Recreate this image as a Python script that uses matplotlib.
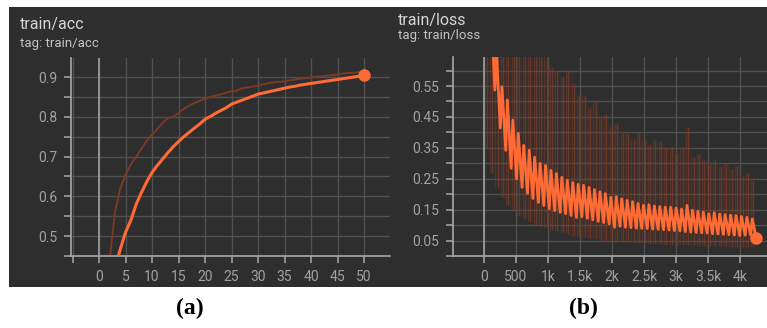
import matplotlib
matplotlib.use("Agg")
import matplotlib.pyplot as plt
from matplotlib.patches import Rectangle
from matplotlib.ticker import MultipleLocator, FixedLocator

# --- data ---
epochs = list(range(1, 51))
acc_raw = [0.30, 0.44, 0.56, 0.62, 0.655, 0.68, 0.70, 0.72, 0.74, 0.755,
           0.77, 0.785, 0.797, 0.80, 0.81, 0.82, 0.828, 0.835, 0.84, 0.846,
           0.85, 0.853, 0.857, 0.861, 0.864, 0.866, 0.872, 0.874, 0.876, 0.878,
           0.882, 0.885, 0.887, 0.888, 0.889, 0.892, 0.894, 0.896, 0.897, 0.899,
           0.901, 0.902, 0.904, 0.905, 0.907, 0.909, 0.910, 0.911, 0.912, 0.914]
acc_smooth = [0.25, 0.34, 0.42, 0.467, 0.51, 0.54, 0.58, 0.61, 0.637, 0.66,
              0.678, 0.694, 0.71, 0.725, 0.738, 0.75, 0.761, 0.772, 0.782, 0.794,
              0.801, 0.809, 0.816, 0.823, 0.832, 0.837, 0.842, 0.847, 0.852, 0.857,
              0.86, 0.863, 0.866, 0.869, 0.872, 0.875, 0.877, 0.88, 0.882, 0.884,
              0.886, 0.888, 0.89, 0.892, 0.894, 0.896, 0.898, 0.90, 0.902, 0.904]

steps_per_epoch = 85
# smoothed loss: peak and trough reached inside each epoch
loss_peak = [1.50, 0.80, 0.66, 0.548, 0.505, 0.44, 0.397, 0.358, 0.342, 0.32,
             0.30, 0.293, 0.277, 0.267, 0.255, 0.245, 0.238, 0.232, 0.229, 0.222,
             0.215, 0.208, 0.202, 0.19, 0.192, 0.185, 0.18, 0.176, 0.17, 0.164,
             0.166, 0.162, 0.16, 0.158, 0.158, 0.155, 0.152, 0.164, 0.148, 0.145,
             0.142, 0.137, 0.14, 0.136, 0.134, 0.132, 0.131, 0.128, 0.125, 0.12]
loss_trough = [0.90, 0.537, 0.414, 0.342, 0.284, 0.25, 0.222, 0.203, 0.186, 0.173,
               0.163, 0.153, 0.147, 0.141, 0.137, 0.131, 0.125, 0.127, 0.122, 0.117,
               0.112, 0.108, 0.104, 0.093, 0.096, 0.093, 0.092, 0.09, 0.089, 0.089,
               0.087, 0.086, 0.085, 0.084, 0.082, 0.081, 0.079, 0.077, 0.076, 0.075,
               0.074, 0.072, 0.071, 0.07, 0.069, 0.068, 0.066, 0.067, 0.068, 0.059]
# raw loss spread per epoch (faint streaks)
raw_top = [2.0, 1.2, 0.9, 0.8, 0.75, 0.7, 0.68, 0.66, 0.66, 0.65,
           0.65, 0.65, 0.61, 0.60, 0.58, 0.60, 0.56, 0.52, 0.52, 0.48,
           0.50, 0.45, 0.46, 0.42, 0.43, 0.40, 0.397, 0.38, 0.40, 0.375,
           0.36, 0.375, 0.37, 0.35, 0.353, 0.33, 0.35, 0.417, 0.32, 0.33,
           0.31, 0.30, 0.31, 0.29, 0.30, 0.28, 0.29, 0.26, 0.27, 0.245]
raw_low = [0.35, 0.27, 0.22, 0.19, 0.165, 0.15, 0.13, 0.12, 0.11, 0.10,
           0.095, 0.09, 0.085, 0.08, 0.075, 0.07, 0.065, 0.062, 0.06, 0.057,
           0.055, 0.052, 0.05, 0.048, 0.046, 0.045, 0.044, 0.043, 0.042, 0.041,
           0.04, 0.039, 0.038, 0.037, 0.036, 0.035, 0.035, 0.034, 0.034, 0.033,
           0.033, 0.032, 0.032, 0.031, 0.031, 0.03, 0.03, 0.03, 0.03, 0.03]

acc_xticks = list(range(-5, 55, 5))
acc_xlabels = [""] + [str(t) for t in range(0, 55, 5)]
acc_yticks = [0.5, 0.6, 0.7, 0.8, 0.9]
loss_xticks = list(range(-500, 4500, 500))
loss_xlabels = ["", "0", "500", "1k", "1.5k", "2k", "2.5k", "3k", "3.5k", "4k"]
loss_yticks = [0.05, 0.15, 0.25, 0.35, 0.45, 0.55]

BG = "#2e2e2e"
GRID = "#505050"
AXC = "#a8a8a8"
TXT = "#a2a2a2"
ORANGE = "#ff6a35"
DIM = "#7b3a26"

plt.rcParams['font.family'] = ['Roboto', 'DejaVu Sans']

fig = plt.figure(figsize=(7.67, 3.28), dpi=100)
fig.patches.append(Rectangle((9 / 767, 41 / 328), 758 / 767, 280 / 328,
                             transform=fig.transFigure, facecolor=BG,
                             edgecolor="none", zorder=-10))


def style_axes(ax, xticks, xlabels, yticks, yminor):
    ax.set_facecolor("none")
    for s in ["top", "right"]:
        ax.spines[s].set_visible(False)
    for s in ["left", "bottom"]:
        ax.spines[s].set_color(AXC)
        ax.spines[s].set_linewidth(1.2)
    ax.xaxis.set_major_locator(FixedLocator(xticks))
    ax.set_xticklabels(xlabels)
    ax.yaxis.set_major_locator(FixedLocator(yticks))
    ax.yaxis.set_minor_locator(MultipleLocator(yminor))
    ax.tick_params(which="both", colors=AXC, labelcolor=TXT, labelsize=10,
                   length=5, width=1.1, pad=5)
    ax.grid(True, which="both", axis="y", color=GRID, lw=1)
    ax.grid(True, which="major", axis="x", color=GRID, lw=1)
    ax.axvline(0, color="#9a9a9a", lw=1.3, zorder=1)
    ax.set_axisbelow(True)


# (a) train/acc
ax1 = fig.add_axes([71 / 767, 72 / 328, 319 / 767, 198 / 328])
style_axes(ax1, acc_xticks, acc_xlabels, acc_yticks, 0.05)
ax1.plot(epochs, acc_raw, color=DIM, lw=1.4, zorder=2)
ax1.plot(epochs, acc_smooth, color=ORANGE, lw=2.2, zorder=3)
ax1.plot(epochs[-1], acc_smooth[-1], "o", color=ORANGE, ms=8, zorder=4,
         clip_on=False)
ax1.set_xlim(-5.3, 54.9)
ax1.set_ylim(0.45, 0.948)

# (b) train/loss
ax2 = fig.add_axes([453 / 767, 72 / 328, 314 / 767, 199 / 328])
style_axes(ax2, loss_xticks, loss_xlabels, loss_yticks, 0.05)
starts = [i * steps_per_epoch for i in range(len(loss_peak))]
mids = [s + steps_per_epoch / 2 for s in starts]
ax2.fill_between(mids, raw_low, raw_top, color="#5a2e22", alpha=0.22, lw=0,
                 zorder=1.5)
ax2.vlines(mids, raw_low, raw_top, color="#8c3e28", lw=1.0, alpha=0.6,
           zorder=2)
ax2.vlines([s + steps_per_epoch * 0.1 for s in starts], raw_low, raw_top,
           color="#8c3e28", lw=0.8, alpha=0.35, zorder=2)
sx, sy = [], []
for s, p, t in zip(starts, loss_peak, loss_trough):
    sx += [s + 25, s + steps_per_epoch]
    sy += [p, t]
ax2.plot(sx, sy, color=ORANGE, lw=2.0, zorder=3)
ax2.plot(sx[-1], sy[-1], "o", color=ORANGE, ms=8, zorder=4, clip_on=False)
ax2.set_xlim(-484, 4420)
ax2.set_ylim(0.0, 0.644)

# titles
fig.text(20 / 767, 1 - 24 / 328, "train/acc", color="#d6d6d6", fontsize=11.5,
         va="center", ha="left")
fig.text(20 / 767, 1 - 43 / 328, "tag: train/acc", color="#c4c4c4",
         fontsize=9.5, va="center", ha="left")
fig.text(398 / 767, 1 - 20 / 328, "train/loss", color="#d6d6d6", fontsize=11.5,
         va="center", ha="left")
fig.text(398 / 767, 1 - 36 / 328, "tag: train/loss", color="#c4c4c4",
         fontsize=9.5, va="center", ha="left")

# captions
fig.text(190 / 767, 1 - 308 / 328, "(a)", family="Liberation Serif",
         fontweight="bold", fontsize=17, ha="center", va="center")
fig.text(583 / 767, 1 - 308 / 328, "(b)", family="Liberation Serif",
         fontweight="bold", fontsize=17, ha="center", va="center")

fig.savefig("out.png", dpi=100, facecolor="white")
